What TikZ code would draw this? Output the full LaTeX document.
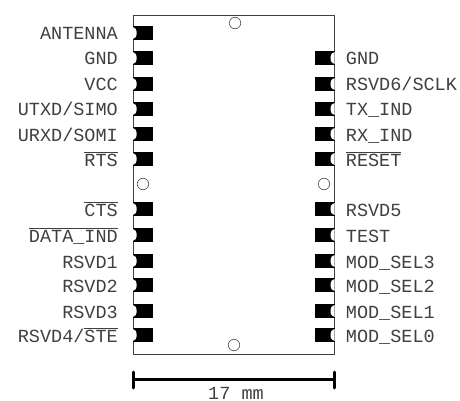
\documentclass[tikz,border=0pt]{standalone}
\usepackage{fontspec}
\setmainfont{Liberation Mono}
\usetikzlibrary{positioning}

\begin{document}
\begin{tikzpicture}[
    x=1pt, y=-1pt,
    pad/.style={rectangle, fill=black, minimum width=20pt, minimum height=14pt, inner sep=0pt},
    padl/.style={pad, path picture={\fill[white] (path picture bounding box.west) ellipse (4pt and 6pt);}},
    padr/.style={pad, path picture={\fill[white] (path picture bounding box.east) ellipse (4pt and 6pt);}},
    pin/.style={inner sep=0pt, text height=12pt, text depth=0pt, font=\fontsize{18.5}{20}\selectfont, text=black!75},
    pinl/.style={pin, left=14.5pt of #1, yshift=-1pt},
    pinr/.style={pin, right=11pt of #1, yshift=-1pt},
    hole/.style={circle, draw=black!70, fill=white, minimum size=11.5pt, inner sep=0pt, line width=0.6pt},
    bar/.style={line width=3pt, black}
]
    \useasboundingbox (0,0) rectangle (460,401);

    % Outline
    \coordinate (nw) at (133,15);
    \coordinate (ne) at (334,15);
    \coordinate (se) at (334,354);
    \coordinate (sw) at (133,354);
    \draw[black!75, line width=0.9pt] (sw) -- (nw) -- (ne) -- (se) -- cycle;

    % Left pads
    \foreach \name/\ypos in {a/33, b/58, c/84, d/109, e/134, f/159, g/209, h/235, i/261, j/285, k/311, l/335}
        \node[padl] (l\name) at (142.7,\ypos) {};

    % Right pads
    \foreach \name/\ypos in {b/58, c/84, d/109, e/134, f/159, g/209, h/235, i/261, j/285, k/311, l/335}
        \node[padr] (r\name) at (324.5,\ypos) {};

    % Left labels
    \node[pinl=la] {ANTENNA};
    \node[pinl=lb] {GND};
    \node[pinl=lc] {VCC};
    \node[pinl=ld] {UTXD/SIMO};
    \node[pinl=le] {URXD/SOMI};
    \node[pinl=lf] {$\overline{\mbox{RTS}}$};
    \node[pinl=lg] {$\overline{\mbox{CTS}}$};
    \node[pinl=lh] {$\overline{\mbox{DATA\_IND}}$};
    \node[pinl=li] {RSVD1};
    \node[pinl=lj] {RSVD2};
    \node[pinl=lk] {RSVD3};
    \node[pinl=ll] {RSVD4/$\overline{\mbox{STE}}$};

    % Right labels
    \node[pinr=rb] {GND};
    \node[pinr=rc] {RSVD6/SCLK};
    \node[pinr=rd] {TX\_IND};
    \node[pinr=re] {RX\_IND};
    \node[pinr=rf] {$\overline{\mbox{RESET}}$};
    \node[pinr=rg] {RSVD5};
    \node[pinr=rh] {TEST};
    \node[pinr=ri] {MOD\_SEL3};
    \node[pinr=rj] {MOD\_SEL2};
    \node[pinr=rk] {MOD\_SEL1};
    \node[pinr=rl] {MOD\_SEL0};

    % Holes
    \node[hole] (top) at (235,23) {};
    \node[hole] (left) at (143,184) {};
    \node[hole] (right) at (324,184) {};
    \node[hole] (bottom) at (234,345) {};

    % Scale
    \coordinate (s1) at (133,379);
    \coordinate (s2) at (334,379);
    \coordinate (s1a) at (133,372);
    \coordinate (s1b) at (133,388);
    \coordinate (s2a) at (334,372);
    \coordinate (s2b) at (334,388);
    \draw[bar] (s1) -- (s2);
    \draw[bar, line cap=round] (s1a) -- (s1b);
    \draw[bar, line cap=round] (s2a) -- (s2b);
    \node[anchor=base, inner sep=0pt, font=\fontsize{18.5}{20}\selectfont, text=black!75] (scale) at (236,399) {17 mm};
\end{tikzpicture}
\end{document}
